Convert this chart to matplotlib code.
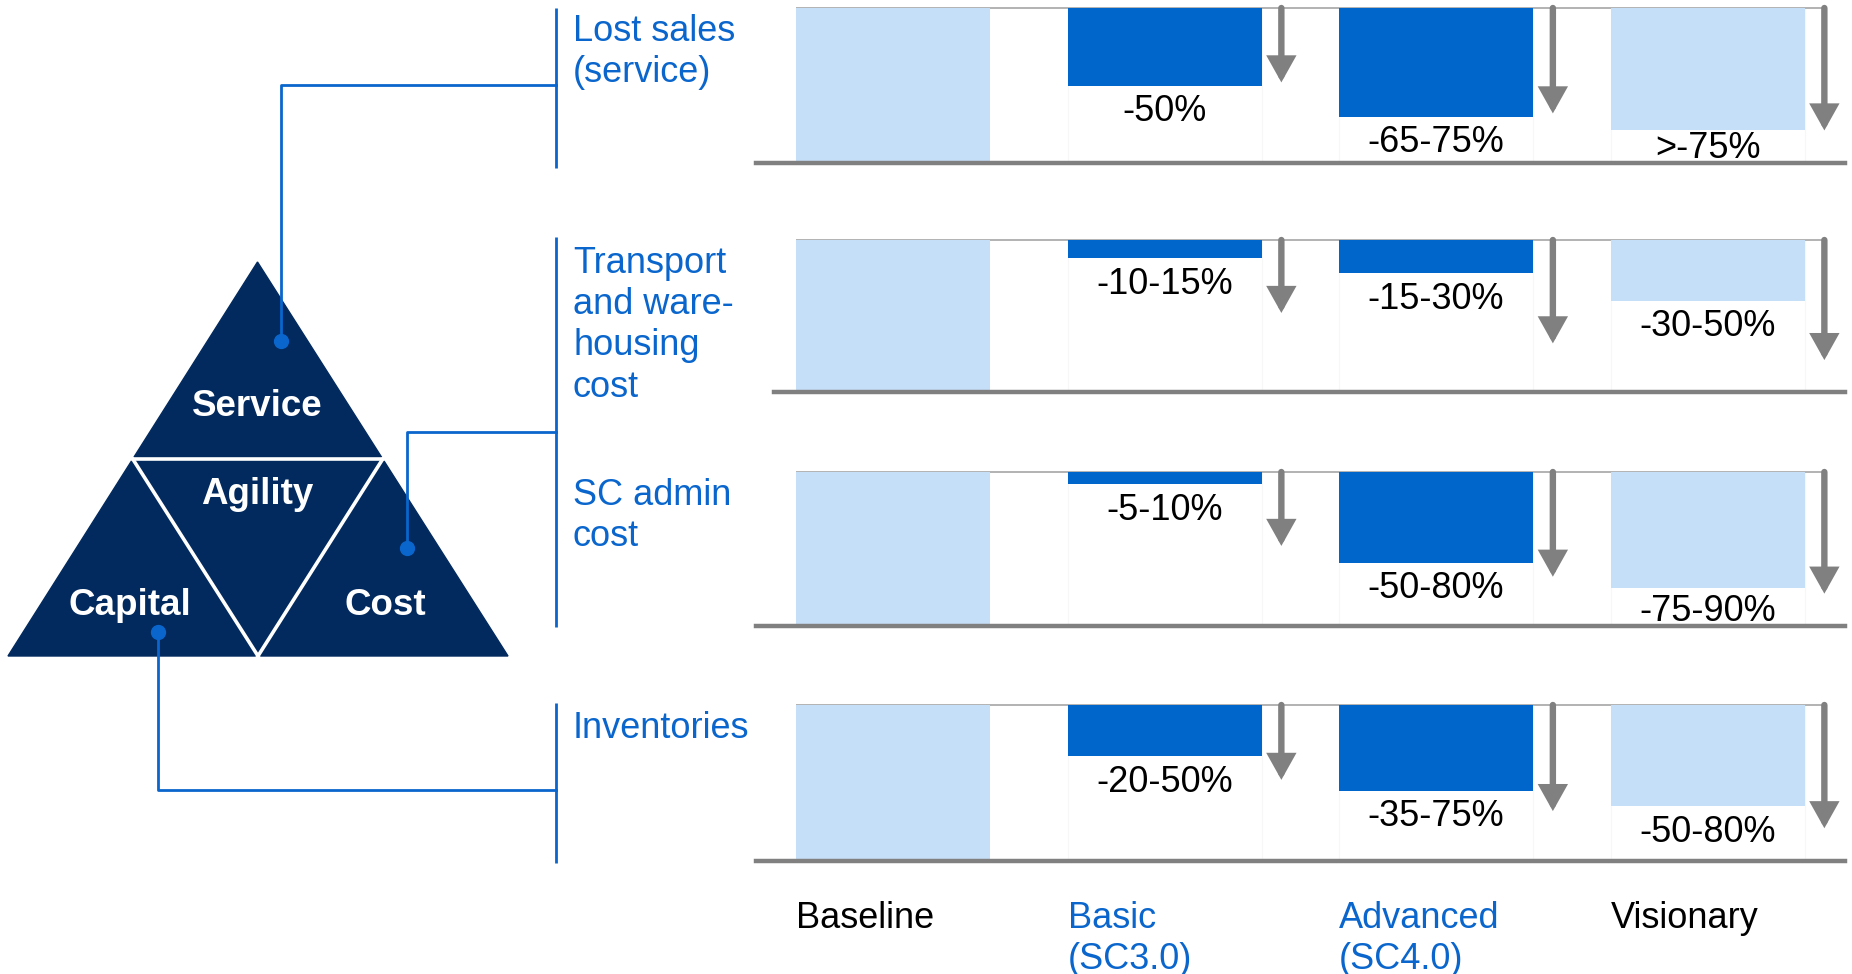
import matplotlib
matplotlib.use('Agg')
import matplotlib.pyplot as plt
from matplotlib.patches import Polygon

plt.rcParams['font.family'] = ['Liberation Sans', 'DejaVu Sans']

# ---------------- data ----------------
stages = ['Baseline', 'Basic\n(SC3.0)', 'Advanced\n(SC4.0)', 'Visionary']
metrics = ['Lost sales\n(service)', 'Transport\nand ware-\nhousing\ncost',
           'SC admin\ncost', 'Inventories']
# remaining level, measured downward from the top line (% of baseline)
lost_sales = [100, 50, 70, 79]
transport = [100, 12, 22, 40]
admin = [100, 8, 59, 75]
inventories = [100, 33, 55, 65]
lost_sales_labels = ['', '-50%', '-65-75%', '>-75%']
transport_labels = ['', '-10-15%', '-15-30%', '-30-50%']
admin_labels = ['', '-5-10%', '-50-80%', '-75-90%']
inventories_labels = ['', '-20-50%', '-35-75%', '-50-80%']
arrow_depth = [48, 68, 79]
pillars = ['Service', 'Agility', 'Capital', 'Cost']

series = [lost_sales, transport, admin, inventories]
labels = [lost_sales_labels, transport_labels, admin_labels, inventories_labels]

# ---------------- style ----------------
LIGHT = '#c6dff8'
DARK = '#0066cc'
BLUE = '#0a66cc'
NAVY = '#022a5e'
GREY = '#808080'
bar_colors = [LIGHT, DARK, DARK, LIGHT]
stage_colors = ['black', BLUE, BLUE, 'black']

W, H = 1852, 974
fig = plt.figure(figsize=(W / 100, H / 100), dpi=100)
bg = fig.add_axes([0, 0, 1, 1])
bg.set_xlim(0, W)
bg.set_ylim(H, 0)
bg.axis('off')

panel_tops = [8, 240, 472, 705]
panel_bots = [163, 392, 626, 861]
AX_L, AX_R = 756, 1845
line_starts = [756, 774, 756, 756]
XL, XR = -0.505, 3.506
BW = 0.714
ARROW_DX = 0.43

axes = []
for p in range(4):
    top, bot = panel_tops[p], panel_bots[p]
    ax = fig.add_axes([AX_L / W, 1 - bot / H, (AX_R - AX_L) / W, (bot - top) / H])
    ax.set_xlim(XL, XR)
    ax.set_ylim(100, 0)
    ax.axis('off')
    axes.append(ax)
    vals = series[p]
    # faint full-height column outlines
    ax.bar(range(1, 4), [100] * 3, width=BW, bottom=0, color='none',
           edgecolor='#f7f7f7', lw=0.8, zorder=1)
    ax.bar(range(4), vals, width=BW, bottom=0, color=bar_colors, zorder=2)
    ax.plot([-BW / 2, 3 + ARROW_DX], [0, 0], color='#a6a6a6', lw=1.2, zorder=1,
            solid_capstyle='butt', clip_on=False)
    ax.axhline(100, xmin=(line_starts[p] - AX_L) / (AX_R - AX_L), xmax=1,
               color=GREY, lw=3.2, zorder=3, clip_on=False)
    px_per_unit = (bot - top) / 100.0
    for j in range(1, 4):
        ax.annotate('', xy=(j + ARROW_DX, arrow_depth[j - 1]),
                    xytext=(j + ARROW_DX, 0),
                    arrowprops=dict(arrowstyle='-|>,head_length=1.25,head_width=0.7',
                                    color=GREY, lw=4.6, shrinkA=0, shrinkB=0,
                                    mutation_scale=10, joinstyle='miter'),
                    zorder=4, annotation_clip=False)
        space_px = (100 - vals[j]) * px_per_unit
        off_px = min(8.5, space_px - 32)
        ax.annotate(labels[p][j], xy=(j, vals[j]), xytext=(0, -off_px * 0.72),
                    textcoords='offset points', ha='center', va='top',
                    fontsize=26, color='black', zorder=5, annotation_clip=False)

# stage labels under the last panel
for j, s in enumerate(stages):
    axes[3].annotate(s, xy=(j - BW / 2, 100), xytext=(0, -29),
                     textcoords='offset points', ha='left', va='top',
                     fontsize=26, color=stage_colors[j], linespacing=1.2,
                     annotation_clip=False)

# metric labels
for p, m in enumerate(metrics):
    bg.text(573, panel_tops[p] + 6, m, ha='left', va='top', fontsize=26,
            color=BLUE, linespacing=1.23)

# blue brackets
for y0, y1 in [(8, 168), (237, 627), (703, 863)]:
    bg.plot([556, 556], [y0, y1], color=BLUE, lw=2, solid_capstyle='butt')

# pyramid
apex, bl, br = (257.5, 262), (8, 656), (508, 656)
bg.add_patch(Polygon([apex, bl, br], closed=True, color=NAVY, zorder=2))
lm = ((apex[0] + bl[0]) / 2, (apex[1] + bl[1]) / 2)
rm = ((apex[0] + br[0]) / 2, (apex[1] + br[1]) / 2)
bm = ((bl[0] + br[0]) / 2, bl[1])
for a, b in [(lm, rm), (lm, bm), (rm, bm)]:
    bg.plot([a[0], b[0]], [a[1], b[1]], color='white', lw=2.6, zorder=3)

pillar_pos = [(257, 416), (257, 504), (130, 615), (385, 615)]
for name, (x, y) in zip(pillars, pillar_pos):
    bg.text(x, y, name, ha='center', va='baseline', fontsize=26.5, fontweight='bold',
            color='white', zorder=4)

# connectors
conn = [
    [(281, 341), (281, 85), (556, 85)],
    [(407, 548), (407, 432), (556, 432)],
    [(158, 632), (158, 790), (556, 790)],
]
for pts in conn:
    xs = [q[0] for q in pts]
    ys = [q[1] for q in pts]
    bg.plot(xs, ys, color=BLUE, lw=2, zorder=5)
    bg.plot(xs[0], ys[0], 'o', ms=10, color=BLUE, zorder=6)

fig.savefig('out.png', dpi=100)
